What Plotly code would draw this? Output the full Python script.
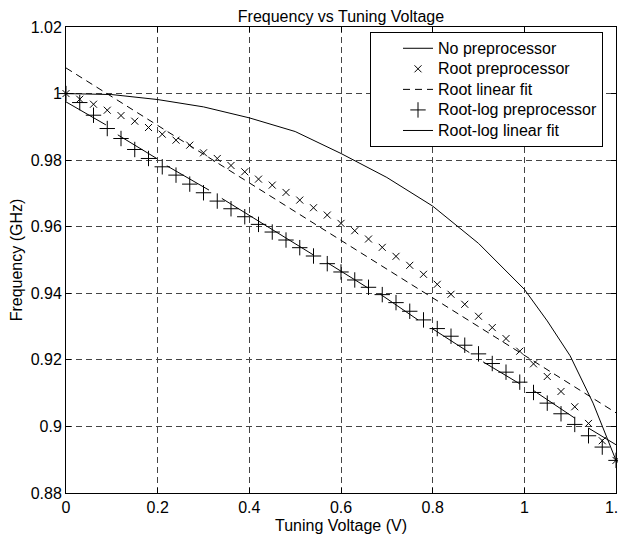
import plotly.graph_objects as go

# ---------------- data ----------------
voltage = [round(0.03 * i, 2) for i in range(41)]  # 0 .. 1.2 V, step 0.03

root_pre = [1.0000, 0.9983, 0.9968, 0.9950, 0.9934, 0.9917, 0.9898, 0.9878, 0.9860, 0.9845,
            0.9822, 0.9805, 0.9784, 0.9765, 0.9743, 0.9725, 0.9703, 0.9680, 0.9657, 0.9635,
            0.9610, 0.9588, 0.9563, 0.9538, 0.9511, 0.9484, 0.9457, 0.9427, 0.9397, 0.9367,
            0.9331, 0.9297, 0.9264, 0.9226, 0.9188, 0.9150, 0.9105, 0.9059, 0.9009, 0.8957,
            0.8898]

rootlog_pre = [1.0000, 0.9973, 0.9935, 0.9895, 0.9865, 0.9832, 0.9805, 0.9780, 0.9755, 0.9728,
               0.9702, 0.9677, 0.9654, 0.9630, 0.9607, 0.9584, 0.9560, 0.9537, 0.9512, 0.9489,
               0.9464, 0.9440, 0.9418, 0.9396, 0.9372, 0.9346, 0.9320, 0.9294, 0.9271, 0.9244,
               0.9218, 0.9189, 0.9163, 0.9133, 0.9102, 0.9070, 0.9038, 0.9006, 0.8972, 0.8938,
               0.8898]

nopre_x = [0.0, 0.1, 0.2, 0.3, 0.4, 0.5, 0.6, 0.7, 0.8, 0.9, 1.0, 1.05, 1.1, 1.15, 1.2]
nopre_y = [1.0, 0.9997, 0.9982, 0.9960, 0.9927, 0.9886, 0.9820, 0.9748, 0.9662, 0.9550,
           0.9412, 0.9317, 0.9212, 0.9070, 0.8898]

root_fit_x = [0.0, 1.2]
root_fit_y = [1.0077, 0.9041]

seg_x0 = [0.0, 0.113, 0.22, 0.34, 0.57, 0.685, 0.80, 0.91, 1.02, 1.14]
seg_x1 = [0.087, 0.199, 0.312, 0.54, 0.66, 0.768, 0.88, 0.99, 1.11, 1.20]
seg_y0 = [0.9975, 0.9876, 0.9783, 0.9685, 0.9492, 0.9398, 0.9293, 0.9194, 0.9108, 0.8995]
seg_y1 = [0.9906, 0.9804, 0.9710, 0.9515, 0.9415, 0.9320, 0.9222, 0.9128, 0.9025, 0.8945]

x_ticks = [0, 0.2, 0.4, 0.6, 0.8, 1, 1.2]
y_ticks = [0.88, 0.9, 0.92, 0.94, 0.96, 0.98, 1.0, 1.02]

series_names = ["No preprocessor", "Root preprocessor", "Root linear fit",
                "Root-log preprocessor", "Root-log linear fit"]

# build segmented fit line
fit_x, fit_y = [], []
for a, b, c, d in zip(seg_x0, seg_x1, seg_y0, seg_y1):
    fit_x += [a, b, None]
    fit_y += [c, d, None]

FONT = "Liberation Sans, Arial, sans-serif"


def lname(s):
    return "<span style='font-size:16px'>" + s + "</span>"


fig = go.Figure()
fig.add_trace(go.Scatter(x=nopre_x, y=nopre_y, mode="lines", name=lname(series_names[0]),
                         line=dict(color="black", width=1)))
fig.add_trace(go.Scatter(x=voltage, y=root_pre, mode="markers", name=lname(series_names[1]),
                         marker=dict(symbol="x-thin", size=7, color="black",
                                     line=dict(color="black", width=1)),
                         cliponaxis=False))
fig.add_trace(go.Scatter(x=root_fit_x, y=root_fit_y, mode="lines", name=lname(series_names[2]),
                         line=dict(color="black", width=1, dash="7px,5px")))
fig.add_trace(go.Scatter(x=voltage, y=rootlog_pre, mode="markers", name=lname(series_names[3]),
                         marker=dict(symbol="cross-thin", size=11, color="black",
                                     line=dict(color="black", width=1)),
                         cliponaxis=False))
fig.add_trace(go.Scatter(x=fit_x, y=fit_y, mode="lines", name=lname(series_names[4]),
                         line=dict(color="black", width=1), connectgaps=False))

axis_common = dict(
    showline=True, linecolor="black", linewidth=1, mirror="ticks",
    ticks="inside", ticklen=5, tickcolor="black", tickwidth=1,
    showgrid=True, gridcolor="#444444", gridwidth=1, griddash="6px,4px",
    zeroline=False, tickfont=dict(family=FONT, size=16, color="black"),
    ticklabeloverflow="allow",
)

fig.update_xaxes(range=[0, 1.2], tickvals=x_ticks,
                 title=dict(text="Tuning Voltage (V)", font=dict(family=FONT, size=16, color="black"),
                            standoff=8),
                 **axis_common)
fig.update_yaxes(range=[0.88, 1.02], tickvals=y_ticks,
                 title=dict(text="Frequency (GHz)", font=dict(family=FONT, size=16, color="black"),
                            standoff=10),
                 **axis_common)

# the page body adds an 8px margin; size the figure so the page does not scroll
# and the plot lands where the reference has it
fig.update_layout(
    width=618, height=526,
    margin=dict(l=58, r=10, t=19, b=41, autoexpand=False),
    paper_bgcolor="white", plot_bgcolor="white",
    font=dict(family=FONT, size=16, color="black"),
    title=dict(text="Frequency vs Tuning Voltage", x=0.5, xref="paper", xanchor="center",
               y=1 - 3 / 526, yref="container", yanchor="top", pad=dict(t=0, b=0),
               font=dict(family=FONT, size=16, color="black")),
    legend=dict(x=(370 - 66) / 550, y=1 - (32 - 27) / 466, xanchor="left", yanchor="top",
                bgcolor="white", bordercolor="black", borderwidth=1,
                font=dict(family=FONT, size=13.5, color="black"),
                tracegroupgap=0, indentation=27),
    showlegend=True,
)

fig.write_html("out.html")
